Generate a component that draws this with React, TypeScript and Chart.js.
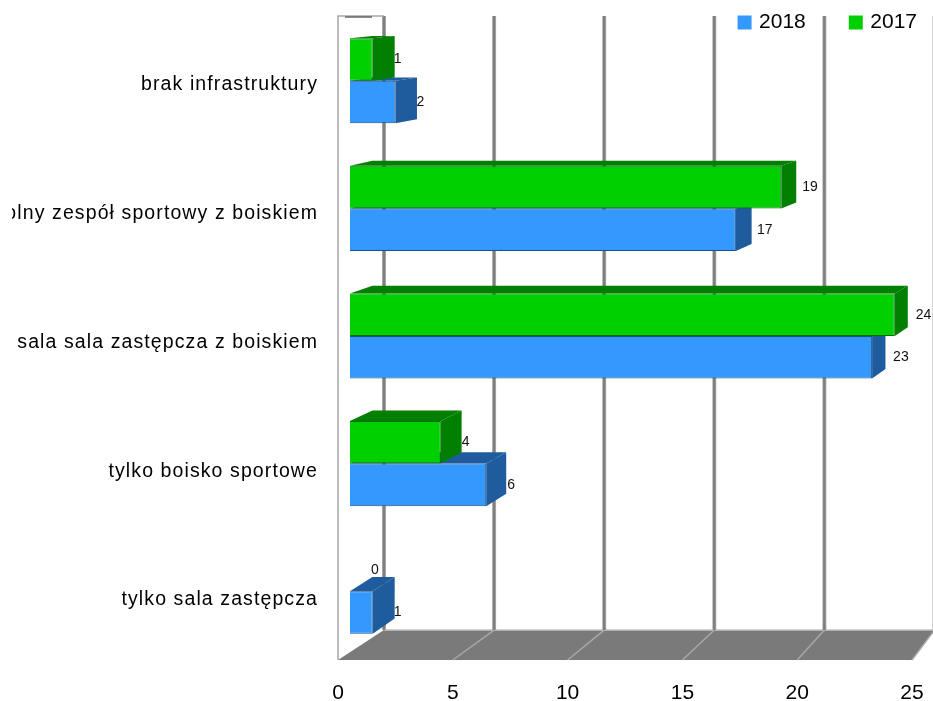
import React, { useEffect, useRef } from "react";
import { Chart, registerables } from "chart.js";

Chart.register(...registerables);

const categories = [
  "brak infrastruktury",
  "szkolny zespół sportowy z boiskiem",
  "sala sala zastępcza z boiskiem",
  "tylko boisko sportowe",
  "tylko sala zastępcza",
];
const values2017 = [1, 19, 24, 4, 0];
const values2018 = [2, 17, 23, 6, 1];
const FONT = "'Liberation Sans', Arial, sans-serif";
// the source labels sit a little lower than their bars, increasingly so down the chart
const labelDrop = [3.5, 5.5, 7, 8.5, 8.5];

const floorBack = (x: number, y: number) => [x + 0.041 * (1460 - x), y - 0.041 * (y + 70)];
const barBackX = (x: number) => x + 0.0172 * (1650 - x);
const barBackY = (y: number) => y - 0.0215 * (y + 70);

const poly = (ctx: CanvasRenderingContext2D, pts: number[][], fill: string) => {
  ctx.beginPath();
  pts.forEach((p, i) => (i ? ctx.lineTo(p[0], p[1]) : ctx.moveTo(p[0], p[1])));
  ctx.closePath();
  ctx.fillStyle = fill;
  ctx.fill();
};

const scene3d = {
  id: "scene3d",
  beforeLayout(chart: any) {
    const l = chart.legend;
    if (!l.__wrapped) {
      l.__wrapped = true;
      const fit = l.fit;
      l.fit = function () {
        fit.call(this);
        this.height = 0;
      };
    }
    const y = chart.scales.y;
    if (y && !y.__wrapped) {
      y.__wrapped = true;
      const dl = y.drawLabels;
      y.drawLabels = function (a: any) {
        const c = this.ctx;
        this.getLabelItems(a).forEach((item: any, i: number) => {
          if (!item.__moved) {
            item.__moved = true;
            item.options.translation[1] += labelDrop[i];
          }
        });
        c.save();
        c.letterSpacing = "1.1px";
        dl.call(this, a);
        c.restore();
      };
    }
  },
  afterLayout(chart: any) {
    const l = chart.legend;
    l.right = 963;
    l.left = 0;
    l.top = -34;
    l.bottom = 60;
  },
  beforeDraw(chart: any) {
    const c = chart.ctx;
    c.save();
    c.fillStyle = "#fff";
    c.fillRect(0, 0, chart.width, chart.height);
    c.restore();
  },
  beforeDatasetsDraw(chart: any) {
    const c: CanvasRenderingContext2D = chart.ctx;
    const sx = chart.scales.x;
    const area = chart.chartArea;
    const frontY = area.bottom + 5;
    const wallTop = area.top - 1;
    const left = sx.getPixelForValue(0);
    const right = sx.getPixelForValue(25);
    const [bl, by] = floorBack(left, frontY);
    const [br] = floorBack(right, frontY);
    c.save();
    // floor
    poly(c, [[left, frontY], [right, frontY], [br, by], [bl, by]], "#7a7a7a");
    c.strokeStyle = "#c4c4c4";
    c.lineWidth = 1.5;
    c.beginPath();
    c.moveTo(bl, by);
    c.lineTo(br, by);
    c.stroke();
    // back-wall grid lines and their floor traces
    sx.ticks.forEach((t: any) => {
      const px = sx.getPixelForValue(t.value);
      const [gx] = floorBack(px, frontY);
      if (t.value > 0) {
        c.strokeStyle = "#a8a8a8";
        c.lineWidth = 1.5;
        c.beginPath();
        c.moveTo(px, frontY);
        c.lineTo(gx, by);
        c.stroke();
      }
      c.strokeStyle = "#b0b0b0";
      c.lineWidth = 4;
      c.beginPath();
      c.moveTo(gx, wallTop);
      c.lineTo(gx, by);
      c.stroke();
      c.strokeStyle = "#7f7f7f";
      c.lineWidth = 2.5;
      c.stroke();
    });
    // left wall edges
    c.strokeStyle = "#a6a6a6";
    c.lineWidth = 1.5;
    c.beginPath();
    c.moveTo(left, frontY);
    c.lineTo(left, wallTop);
    c.lineTo(bl, wallTop);
    c.stroke();
    c.strokeStyle = "#666";
    c.lineWidth = 1.5;
    c.beginPath();
    c.moveTo(345, wallTop + 1);
    c.lineTo(372, wallTop + 1);
    c.stroke();
    // bar depth faces, lower series first
    [1, 0].forEach((di) => {
      const meta = chart.getDatasetMeta(di);
      const dark = chart.data.datasets[di].depthColor;
      for (let i = meta.data.length - 1; i >= 0; i--) {
        const b = meta.data[i];
        if (!chart.data.datasets[di].data[i]) continue;
        const L = b.base, R = b.x, T = b.y - b.height / 2, B = b.y + b.height / 2;
        poly(c, [[L, T], [barBackX(L), barBackY(T)], [barBackX(R), barBackY(T)], [R, T]], dark);
        poly(c, [[R, T], [barBackX(R), barBackY(T)], [barBackX(R), barBackY(B)], [R, B]], dark);
      }
    });
    c.restore();
  },
  afterDatasetsDraw(chart: any) {
    const c: CanvasRenderingContext2D = chart.ctx;
    c.save();
    c.font = `14px ${FONT}`;
    c.fillStyle = "#111";
    c.textAlign = "left";
    c.textBaseline = "middle";
    chart.data.datasets.forEach((ds: any, di: number) => {
      chart.getDatasetMeta(di).data.forEach((b: any, i: number) => {
        c.fillText(String(ds.data[i]), b.x + 21, b.y);
      });
    });
    c.restore();
  },
  afterDraw(chart: any) {
    // the source image cuts the longest label at its left edge
    const c = chart.ctx;
    c.save();
    c.fillStyle = "#fff";
    c.fillRect(0, 195, 12, 40);
    c.restore();
  },
};

export default function App() {
  const ref = useRef<HTMLCanvasElement>(null);
  useEffect(() => {
    const chart = new Chart(ref.current!, {
      type: "bar",
      data: {
        labels: categories,
        datasets: [
          {
            label: "2017",
            data: values2017,
            xAxisID: "x1",
            backgroundColor: "#00d000",
            borderColor: "#006f00",
            borderWidth: 1,
            depthColor: "#007f00",
          } as any,
          {
            label: "2018",
            data: values2018,
            xAxisID: "x1",
            backgroundColor: "#3399ff",
            borderColor: "#1c4f86",
            borderWidth: 1,
            depthColor: "#1f5c9e",
          } as any,
        ],
      },
      options: {
        indexAxis: "y",
        animation: false,
        responsive: false,
        layout: { padding: { top: 17, right: 21, left: 0, bottom: 0 } },
        categoryPercentage: 0.667,
        barPercentage: 1,
        scales: {
          x: {
            type: "linear",
            position: "bottom",
            min: 0,
            max: 25,
            grid: { display: false, drawTicks: true, tickLength: 26 },
            border: { display: false },
            ticks: { stepSize: 5, padding: 0, color: "#000", font: { family: FONT, size: 21 }, maxRotation: 0 },
            afterFit: (s: any) => {
              s.height = 46;
            },
          },
          x1: {
            type: "linear",
            display: false,
            min: -12 / 22.7,
            max: (912 - 350) / 22.7,
          },
          y: {
            type: "category",
            grid: { display: false, drawTicks: true, tickLength: 20 },
            border: { display: false },
            ticks: { padding: 0, color: "#000", autoSkip: false, font: { family: FONT, size: 19.5 } },
            afterFit: (s: any) => {
              s.width = 338;
            },
          },
        },
        plugins: {
          tooltip: { enabled: false },
          legend: {
            position: "top",
            align: "end",
            reverse: true,
            labels: {
              padding: 46,
              color: "#000",
              font: { family: FONT, size: 21 },
              boxWidth: 8,
              boxHeight: 8,
              generateLabels: (ch: any) =>
                ch.data.datasets.map((d: any, i: number) => ({
                  text: d.label,
                  fillStyle: d.backgroundColor,
                  strokeStyle: d.backgroundColor,
                  lineWidth: 6,
                  datasetIndex: i,
                  hidden: false,
                })),
            },
          },
        },
      } as any,
      plugins: [scene3d as any],
    });
    return () => chart.destroy();
  }, []);
  return (
    <canvas
      ref={ref}
      width={933}
      height={701}
      style={{ position: "absolute", left: 0, top: 0 }}
    />
  );
}
